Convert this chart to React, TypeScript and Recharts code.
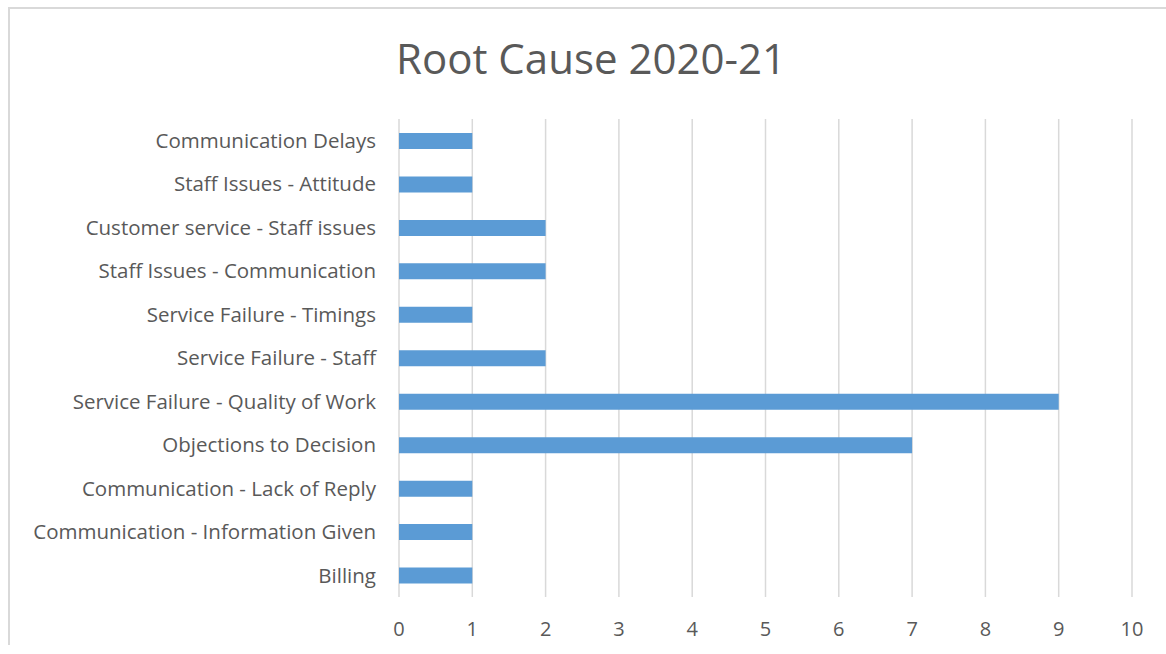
import { BarChart, Bar, XAxis, YAxis, CartesianGrid } from 'recharts'

const categories = [
  'Communication Delays',
  'Staff Issues - Attitude',
  'Customer service - Staff issues',
  'Staff Issues - Communication',
  'Service Failure - Timings',
  'Service Failure - Staff',
  'Service Failure - Quality of Work',
  'Objections to Decision',
  'Communication - Lack of Reply',
  'Communication - Information Given',
  'Billing',
]
const counts = [1, 1, 2, 2, 1, 2, 9, 7, 1, 1, 1]
const xTicks = [0, 1, 2, 3, 4, 5, 6, 7, 8, 9, 10]

const data = categories.map((name, i) => ({ name, value: counts[i] }))

const font = '"Open Sans", sans-serif'
const textColor = '#595959'

export default function App() {
  return (
    <div style={{ position: 'absolute', left: 0, top: 0, width: 1166, height: 654, background: '#fff', fontFamily: font }}>
      <div style={{ position: 'absolute', left: 8, top: 7, width: 1158, height: 638, borderTop: '2px solid #d9d9d9', borderLeft: '2px solid #d9d9d9', boxSizing: 'border-box' }} />
      <div style={{ position: 'absolute', left: 0, top: 30, width: 1182, textAlign: 'center', fontSize: 42, color: textColor, lineHeight: '56px' }}>
        Root Cause 2020-21
      </div>
      <div style={{ position: 'absolute', left: 0, top: 0 }}>
        <BarChart
          width={1166}
          height={654}
          data={data}
          layout="vertical"
          margin={{ top: 119, right: 34, bottom: 0, left: 0 }}
        >
          <CartesianGrid horizontal={false} stroke="#d9d9d9" strokeWidth={1.5} />
          <XAxis
            type="number"
            domain={[0, 10]}
            ticks={xTicks}
            axisLine={false}
            tickLine={false}
            tickSize={0}
            tickMargin={25}
            height={57}
            tick={{ fill: textColor, fontSize: 20, fontFamily: font }}
          />
          <YAxis
            type="category"
            dataKey="name"
            width={399}
            axisLine={false}
            tickLine={false}
            tickSize={0}
            tickMargin={23}
            interval={0}
            tick={{ fill: textColor, fontSize: 20.5, fontFamily: font }}
          />
          <Bar dataKey="value" fill="#5b9bd5" barSize={16} isAnimationActive={false} />
        </BarChart>
      </div>
    </div>
  )
}
